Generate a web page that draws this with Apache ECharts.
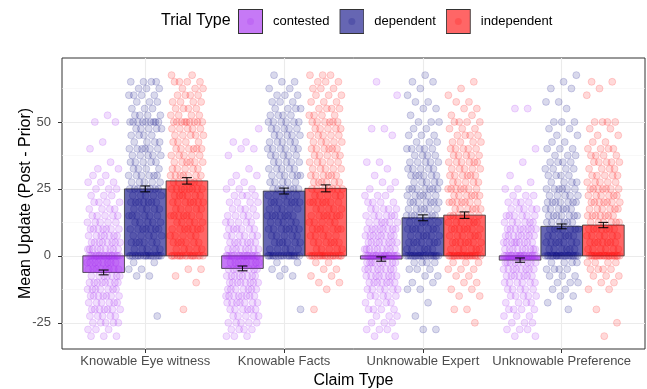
<!DOCTYPE html>
<html>
<head>
<meta charset="utf-8">
<script src="https://cdn.jsdelivr.net/npm/echarts@6/dist/echarts.min.js"></script>
<style>
  html, body { margin: 0; padding: 0; background: #fff; }
  #chart { width: 647px; height: 389px; }
</style>
</head>
<body>
<div id="chart"></div>
<script>
const categories = ['Knowable Eye witness', 'Knowable Facts', 'Unknowable Expert', 'Unknowable Preference']
const trialTypes = ['contested', 'dependent', 'independent']
const trialColors = ['#A020F0', '#000080', '#FF0000']

const meanContested = [-6.2, -4.7, -1.2, -1.6]
const meanDependent = [25.0, 24.2, 14.2, 11.0]
const meanIndependent = [28.0, 25.2, 15.2, 11.5]
const seContested = [0.9, 0.9, 0.8, 0.8]
const seDependent = [1.1, 1.1, 1.1, 0.9]
const seIndependent = [1.2, 1.3, 1.2, 1.0]

const yTicks = [-25, 0, 25, 50]
const yMinorTicks = [-12.5, 12.5, 37.5, 62.5]

// individual responses as [value, how many]
const ptsEyeContested = [[52.5,1],[50,2],[42.5,1],[40,1],[35,1],[32.5,2],[30,2],[27.5,3],[25,3],[22.5,3],[20,4],[17.5,4],[15,5],[12.5,5],[10,7],[7.5,7],[5,8],[2.5,9],[0,20],[-2.5,8],[-5,8],[-7.5,7],[-10,8],[-12.5,7],[-15,7],[-17.5,6],[-20,7],[-22.5,5],[-25,5],[-27.5,3],[-30,3]]
const ptsEyeDependent = [[65,4],[62.5,3],[60,4],[57.5,3],[55,3],[52.5,4],[50,9],[47.5,5],[45,4],[42.5,4],[40,6],[37.5,5],[35,5],[32.5,4],[30,6],[27.5,5],[25,8],[22.5,5],[20,7],[17.5,5],[15,6],[12.5,5],[10,7],[7.5,5],[5,6],[2.5,5],[0,18],[-2.5,2],[-5,2],[-7.5,2],[-22.5,1]]
const ptsEyeIndependent = [[67.5,2],[65,4],[62.5,3],[60,4],[57.5,4],[55,4],[52.5,4],[50,9],[47.5,5],[45,5],[42.5,4],[40,6],[37.5,5],[35,6],[32.5,5],[30,7],[27.5,6],[25,8],[22.5,6],[20,7],[17.5,5],[15,7],[12.5,5],[10,7],[7.5,5],[5,6],[2.5,5],[0,16],[-5,2],[-7.5,1],[-10,1],[-20,1]]
const ptsFactsContested = [[47.5,1],[42.5,2],[40,2],[37.5,1],[32.5,1],[30,2],[27.5,2],[25,3],[22.5,4],[20,4],[17.5,4],[15,5],[12.5,5],[10,6],[7.5,6],[5,7],[2.5,8],[0,20],[-2.5,8],[-5,8],[-7.5,8],[-10,8],[-12.5,7],[-15,8],[-17.5,7],[-20,6],[-22.5,5],[-25,5],[-27.5,4],[-30,3]]
const ptsFactsDependent = [[67.5,1],[65,2],[62.5,2],[60,3],[57.5,3],[55,4],[52.5,4],[50,6],[47.5,5],[45,5],[42.5,5],[40,6],[37.5,5],[35,5],[32.5,5],[30,6],[27.5,5],[25,7],[22.5,5],[20,7],[17.5,5],[15,7],[12.5,5],[10,7],[7.5,5],[5,6],[2.5,5],[0,18],[-2.5,2],[-5,2],[-7.5,2],[-20,1]]
const ptsFactsIndependent = [[67.5,3],[65,3],[62.5,3],[60,3],[57.5,3],[55,4],[52.5,4],[50,6],[47.5,5],[45,5],[42.5,5],[40,6],[37.5,5],[35,5],[32.5,5],[30,6],[27.5,6],[25,7],[22.5,5],[20,7],[17.5,5],[15,7],[12.5,5],[10,7],[7.5,5],[5,6],[2.5,5],[0,18],[-2.5,2],[-5,2],[-7.5,2],[-10,2],[-12.5,1],[-20,1]]
const ptsExpertContested = [[65,1],[60,1],[47.5,2],[45,1],[35,2],[32.5,1],[30,1],[27.5,2],[25,2],[22.5,3],[20,4],[17.5,5],[15,6],[12.5,6],[10,8],[7.5,8],[5,8],[2.5,9],[0,22],[-2.5,9],[-5,8],[-7.5,8],[-10,7],[-12.5,6],[-15,5],[-17.5,4],[-20,4],[-22.5,3],[-25,3],[-27.5,3],[-30,2]]
const ptsExpertDependent = [[67.5,1],[65,2],[62.5,1],[60,1],[57.5,2],[55,2],[52.5,1],[50,3],[47.5,2],[45,3],[42.5,3],[40,5],[37.5,4],[35,5],[32.5,5],[30,6],[27.5,5],[25,7],[22.5,6],[20,7],[17.5,6],[15,7],[12.5,6],[10,7],[7.5,6],[5,7],[2.5,6],[0,20],[-2.5,4],[-5,3],[-7.5,2],[-10,2],[-12.5,2],[-17.5,1],[-22.5,1],[-27.5,2]]
const ptsExpertIndependent = [[65,1],[62.5,1],[60,1],[57.5,2],[55,2],[52.5,2],[50,4],[47.5,3],[45,4],[42.5,4],[40,5],[37.5,5],[35,6],[32.5,5],[30,6],[27.5,5],[25,7],[22.5,6],[20,7],[17.5,6],[15,7],[12.5,6],[10,7],[7.5,6],[5,7],[2.5,6],[0,20],[-2.5,3],[-5,3],[-7.5,2],[-10,2],[-12.5,2],[-15,2],[-20,2],[-25,1]]
const ptsPrefContested = [[55,2],[40,1],[35,1],[30,1],[27.5,1],[25,2],[22.5,3],[20,4],[17.5,5],[15,6],[12.5,6],[10,8],[7.5,8],[5,9],[2.5,9],[0,22],[-2.5,9],[-5,8],[-7.5,7],[-10,6],[-12.5,5],[-15,5],[-17.5,4],[-20,4],[-22.5,3],[-25,3],[-27.5,3],[-30,2]]
const ptsPrefDependent = [[67.5,1],[65,1],[62.5,2],[57.5,2],[55,1],[50,3],[47.5,2],[45,2],[42.5,2],[40,3],[37.5,3],[35,4],[32.5,4],[30,4],[27.5,4],[25,6],[22.5,5],[20,7],[17.5,6],[15,7],[12.5,6],[10,7],[7.5,6],[5,7],[2.5,6],[0,22],[-2.5,4],[-5,4],[-7.5,3],[-10,3],[-12.5,2],[-15,2],[-17.5,1],[-20,1]]
const ptsPrefIndependent = [[65,2],[62.5,1],[60,1],[50,4],[47.5,2],[45,2],[42.5,2],[40,4],[37.5,4],[35,5],[32.5,4],[30,5],[27.5,5],[25,7],[22.5,6],[20,7],[17.5,6],[15,7],[12.5,6],[10,7],[7.5,6],[5,7],[2.5,6],[0,20],[-2.5,4],[-5,4],[-7.5,3],[-10,2],[-12.5,2],[-20,1],[-25,1],[-30,1]]

const meansByType = [meanContested, meanDependent, meanIndependent]
const seByType = [seContested, seDependent, seIndependent]
const pointsByType = [
  [ptsEyeContested, ptsFactsContested, ptsExpertContested, ptsPrefContested],
  [ptsEyeDependent, ptsFactsDependent, ptsExpertDependent, ptsPrefDependent],
  [ptsEyeIndependent, ptsFactsIndependent, ptsExpertIndependent, ptsPrefIndependent]
]

const FONT = "'Liberation Sans', Arial, Helvetica, sans-serif"
const DODGE = [-0.3, 0, 0.3]
const BAR_HALF = 0.15
const JITTER = 0.24

const rgba = (hex, a) => {
  const n = parseInt(hex.slice(1), 16)
  return `rgba(${(n >> 16) & 255},${(n >> 8) & 255},${n & 255},${a})`
}

// spread points sideways inside their bar, like geom_jitter (height = 0)
const jitterPoints = (groups, t) => {
  const out = []
  groups.forEach((pairs, c) => {
    let k = 0
    pairs.forEach(([v, count]) => {
      for (let i = 0; i < count; i++) {
        k++
        const u = ((k * 0.6180339887 + c * 0.37 + t * 0.21) % 1) - 0.5
        out.push([c + DODGE[t] + u * JITTER, v])
      }
    })
  })
  return out
}

const barRender = (t) => (params, api) => {
  const x = api.value(0) + DODGE[t]
  const v = api.value(1)
  const p0 = api.coord([x - BAR_HALF, 0])
  const p1 = api.coord([x + BAR_HALF, v])
  return {
    type: 'rect',
    shape: { x: p0[0], y: Math.min(p0[1], p1[1]), width: p1[0] - p0[0], height: Math.abs(p1[1] - p0[1]) },
    style: { fill: rgba(trialColors[t], 0.6), stroke: '#333333', lineWidth: 0.8 }
  }
}

const errRender = (t) => (params, api) => {
  const x = api.value(0) + DODGE[t]
  const lo = api.coord([x, api.value(1) - api.value(2)])
  const hi = api.coord([x, api.value(1) + api.value(2)])
  const half = api.size([0.036, 0])[0]
  const style = { stroke: '#000', lineWidth: 1 }
  return {
    type: 'group',
    children: [
      { type: 'line', shape: { x1: lo[0], y1: lo[1], x2: hi[0], y2: hi[1] }, style },
      { type: 'line', shape: { x1: lo[0] - half, y1: lo[1], x2: lo[0] + half, y2: lo[1] }, style },
      { type: 'line', shape: { x1: hi[0] - half, y1: hi[1], x2: hi[0] + half, y2: hi[1] }, style }
    ]
  }
}

const legendIcon = (hex) => {
  const svg = `<svg xmlns="http://www.w3.org/2000/svg" width="25" height="25">` +
    `<rect x="0.5" y="0.5" width="24" height="24" fill="${hex}" fill-opacity="0.6" stroke="#333" stroke-width="1"/>` +
    `<circle cx="12.5" cy="12.5" r="3.5" fill="${hex}" fill-opacity="0.18"/></svg>`
  return 'image://data:image/svg+xml;charset=utf-8,' + encodeURIComponent(svg)
}

const series = []
trialTypes.forEach((name, t) => {
  series.push({
    name,
    type: 'custom',
    renderItem: barRender(t),
    data: meansByType[t].map((m, c) => [c, m]),
    encode: { x: 0, y: 1 },
    clip: true,
    z: 2
  })
})
trialTypes.forEach((name, t) => {
  series.push({
    name,
    type: 'scatter',
    symbol: 'circle',
    symbolSize: 7,
    data: jitterPoints(pointsByType[t], t),
    itemStyle: { color: rgba(trialColors[t], 0.15), borderColor: rgba(trialColors[t], 0.16), borderWidth: 1, opacity: 1 },
    emphasis: { disabled: true },
    clip: true,
    z: 3
  })
})
trialTypes.forEach((name, t) => {
  series.push({
    name,
    type: 'custom',
    renderItem: errRender(t),
    data: meansByType[t].map((m, c) => [c, m, seByType[t][c]]),
    encode: { x: 0, y: [1] },
    z: 4
  })
})

const chart = echarts.init(document.getElementById('chart'), null, { renderer: 'canvas' })
chart.setOption({
  animation: false,
  backgroundColor: '#ffffff',
  textStyle: { fontFamily: FONT },
  title: {
    text: 'Trial Type',
    left: 161,
    top: 13,
    padding: 0,
    textStyle: { fontSize: 16, fontWeight: 'normal', color: '#000', fontFamily: FONT }
  },
  legend: {
    left: 238,
    top: 9,
    itemWidth: 25,
    itemHeight: 25,
    itemGap: 10,
    padding: 0,
    selectedMode: false,
    textStyle: { fontSize: 13, color: '#000', fontFamily: FONT, padding: [0, 0, 0, 5] },
    data: trialTypes.map((name, t) => ({ name, icon: legendIcon(trialColors[t]) }))
  },
  grid: {
    left: 62,
    right: 2,
    top: 58,
    bottom: 40,
    outerBoundsMode: 'none',
    show: true,
    borderColor: '#333333',
    borderWidth: 1,
    backgroundColor: 'transparent'
  },
  xAxis: {
    type: 'value',
    min: -0.6,
    max: 3.6,
    name: 'Claim Type',
    nameLocation: 'middle',
    nameGap: 24,
    nameMoveOverlap: false,
    nameTextStyle: { fontSize: 16, color: '#000', fontFamily: FONT },
    axisLine: { show: false, onZero: false },
    axisTick: { show: true, length: 4, lineStyle: { color: '#333' }, customValues: [0, 1, 2, 3] },
    axisLabel: {
      customValues: [0, 1, 2, 3],
      formatter: (v) => categories[Math.round(v)],
      fontSize: 13,
      color: '#4D4D4D',
      margin: 6,
      fontFamily: FONT
    },
    splitLine: { show: true, lineStyle: { color: '#EBEBEB', width: 1.1 } }
  },
  yAxis: [
    {
      type: 'value',
      min: -34.8,
      max: 73.9,
      name: 'Mean Update (Post - Prior)',
      nameLocation: 'middle',
      nameGap: 28,
      nameRotate: 90,
      nameMoveOverlap: false,
      nameTextStyle: { fontSize: 16, color: '#000', fontFamily: FONT },
      axisLine: { show: false, onZero: false },
      axisTick: { show: true, length: 4, lineStyle: { color: '#333' }, customValues: yTicks },
      axisLabel: { customValues: yTicks, fontSize: 13, color: '#4D4D4D', margin: 11, fontFamily: FONT },
      splitLine: { show: true, lineStyle: { color: '#EBEBEB', width: 1.1 } },
      z: 1
    },
    {
      type: 'value',
      min: -34.8,
      max: 73.9,
      axisLine: { show: false, onZero: false },
      axisTick: { show: false, customValues: yMinorTicks },
      axisLabel: { show: false, customValues: yMinorTicks },
      splitLine: { show: true, lineStyle: { color: '#F3F3F3', width: 0.6 } },
      z: 0
    }
  ],
  series
})

window.addEventListener('resize', () => chart.resize())
</script>
</body>
</html>
